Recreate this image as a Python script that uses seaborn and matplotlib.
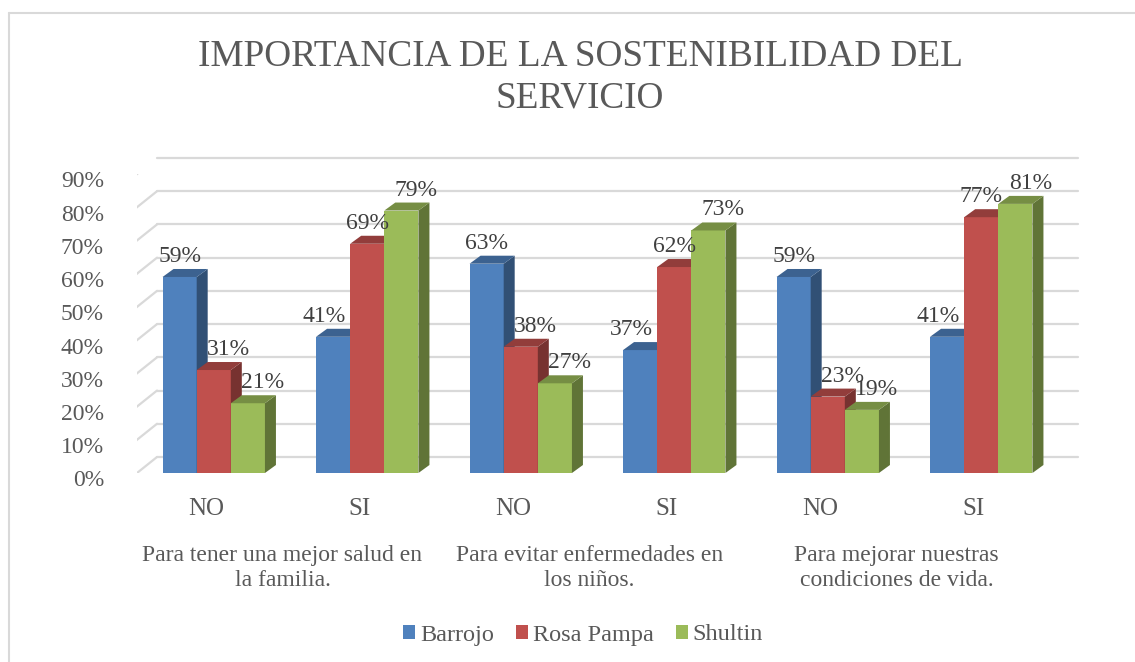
import matplotlib
matplotlib.use("Agg")
import matplotlib.pyplot as plt
import numpy as np
import pandas as pd
import seaborn as sns
from matplotlib.lines import Line2D
from matplotlib.patches import Patch, Polygon
from matplotlib.transforms import IdentityTransform, offset_copy

# ---------------------------------------------------------------------------
# Data
# ---------------------------------------------------------------------------
respuestas = ["NO", "SI", "NO", "SI", "NO", "SI"]
grupos = [
    "Para tener una mejor salud en\nla familia.",
    "Para evitar enfermedades en\nlos niños.",
    "Para mejorar nuestras\ncondiciones de vida.",
]
series = ["Barrojo", "Rosa Pampa", "Shultin"]
barrojo = [0.59, 0.41, 0.63, 0.37, 0.59, 0.41]
rosa_pampa = [0.31, 0.69, 0.38, 0.62, 0.23, 0.77]
shultin = [0.21, 0.79, 0.27, 0.73, 0.19, 0.81]
yticks = [0.0, 0.1, 0.2, 0.3, 0.4, 0.5, 0.6, 0.7, 0.8, 0.9]

# ---------------------------------------------------------------------------
# Style
# ---------------------------------------------------------------------------
COLORS = ["#4F81BD", "#C0504D", "#9BBB59"]
GRID = "#D9D9D9"
TXT = "#595959"
LBL = "#404040"
FONT = ["Liberation Serif", "DejaVu Serif"]
BACK = (20, 16)    # offset of back wall from bar plane, px
FRONT = (-10, -8)  # offset of front edge from bar plane, px
DEPTH = (11, 8)    # bar depth, px

sns.set_theme(style="white")
plt.rcParams["font.family"] = FONT

fig = plt.figure(figsize=(11.35, 6.62), dpi=100)
ax = fig.add_axes([137 / 1135, 189 / 662, 921 / 1135, 299 / 662])

df = pd.DataFrame({
    "pos": np.tile(np.arange(len(respuestas)), 3),
    "valor": barrojo + rosa_pampa + shultin,
    "serie": np.repeat(series, len(respuestas)),
})

sns.barplot(
    data=df, x="pos", y="valor", hue="serie", hue_order=series,
    palette=COLORS, saturation=1, width=0.667, ax=ax, legend=False,
    edgecolor="none", linewidth=0,
)
ax.set_xlim(-0.5, len(respuestas) - 0.5)
ax.set_ylim(0, 0.9)
ax.axis("off")

# back wall gridlines + left wall diagonals + percent ticks
back_tr = offset_copy(ax.transData, fig, x=BACK[0], y=BACK[1], units="dots")
tick_tr = offset_copy(ax.transData, fig, x=-33, y=FRONT[1], units="dots")
for v in yticks:
    ax.plot([-0.5, len(respuestas) - 0.5], [v, v], color=GRID, lw=1.6,
            transform=back_tr, zorder=1, clip_on=False)
    p0 = ax.transData.transform((-0.5, v))
    ax.add_line(Line2D([p0[0] + FRONT[0], p0[0] + BACK[0]],
                       [p0[1] + FRONT[1], p0[1] + BACK[1]],
                       color=GRID, lw=1.6, transform=IdentityTransform(),
                       zorder=1))
    ax.text(-0.5, v, f"{v:.0%}", transform=tick_tr, ha="right", va="center",
            fontsize=17, color=TXT, clip_on=False)


def shade(c, f):
    r, g, b = matplotlib.colors.to_rgb(c)
    return (r * f, g * f, b * f)


# 3D faces and data labels
valores = [barrojo, rosa_pampa, shultin]
for h, bars in enumerate(ax.containers):
    for i, bar in enumerate(bars):
        bar.set_zorder(3 + h)
        x0, x1 = bar.get_x(), bar.get_x() + bar.get_width()
        top = bar.get_height()
        (ax0, ay0), (ax1, ay1) = ax.transData.transform([(x0, 0), (x1, top)])
        dx, dy = DEPTH
        side = [(ax1, ay0), (ax1 + dx, ay0 + dy), (ax1 + dx, ay1 + dy), (ax1, ay1)]
        cap = [(ax0, ay1), (ax0 + dx, ay1 + dy), (ax1 + dx, ay1 + dy), (ax1, ay1)]
        ax.add_patch(Polygon(side, closed=True, fc=shade(COLORS[h], 0.62),
                             ec="none", transform=IdentityTransform(),
                             zorder=3.5 + h))
        ax.add_patch(Polygon(cap, closed=True, fc=shade(COLORS[h], 0.76),
                             ec="none", transform=IdentityTransform(),
                             zorder=3.5 + h))

        # label placement: step aside when a neighbour would hide it
        grp = [valores[k][i] for k in range(3)]
        shift = 0
        if h == 0 and grp[1] > grp[0]:
            shift = -9
        elif h == 1 and grp[0] > grp[1]:
            shift = 15
        elif h == 2:
            shift = 15
        cx = (ax0 + ax1) / 2 + shift
        ax.text(cx, ay1 + 15, f"{top:.0%}", transform=IdentityTransform(),
                ha="center", va="baseline", fontsize=17, color=LBL, zorder=10)

# category labels
cat_tr = offset_copy(ax.transData, fig, x=-8, y=-36, units="dots")
for i, r in enumerate(respuestas):
    ax.text(i, 0, r, transform=cat_tr, ha="center", va="center",
            fontsize=18, color=TXT, clip_on=False)
grp_tr = offset_copy(ax.transData, fig, x=-8, y=-72, units="dots")
for g, txt in enumerate(grupos):
    ax.text(2 * g + 0.5, 0, txt, transform=grp_tr, ha="center", va="top",
            fontsize=17, color=TXT, linespacing=1.25, clip_on=False)

# title
fig.text(580 / 1135, 1 - 39 / 662,
         "IMPORTANCIA DE LA SOSTENIBILIDAD DEL\nSERVICIO",
         ha="center", va="top", fontsize=26.8, color=TXT, linespacing=1.3)

# legend
handles = [Patch(facecolor=c, edgecolor="none") for c in COLORS]
fig.legend(handles, series, loc="center", ncol=3, frameon=False,
           bbox_to_anchor=(583 / 1135, 27 / 662), fontsize=17.5,
           handlelength=0.5, handleheight=0.5, handletextpad=0.2,
           columnspacing=0.9, labelcolor=TXT)

# chart area border (left and top edges visible)
fig.add_artist(Line2D([8.5 / 1135, 8.5 / 1135], [0, 1 - 12.5 / 662],
                      transform=fig.transFigure, color=GRID, lw=1.5))
fig.add_artist(Line2D([8.5 / 1135, 1], [1 - 12.5 / 662, 1 - 12.5 / 662],
                      transform=fig.transFigure, color=GRID, lw=1.5))

fig.savefig("out.png", dpi=100, facecolor="white")
